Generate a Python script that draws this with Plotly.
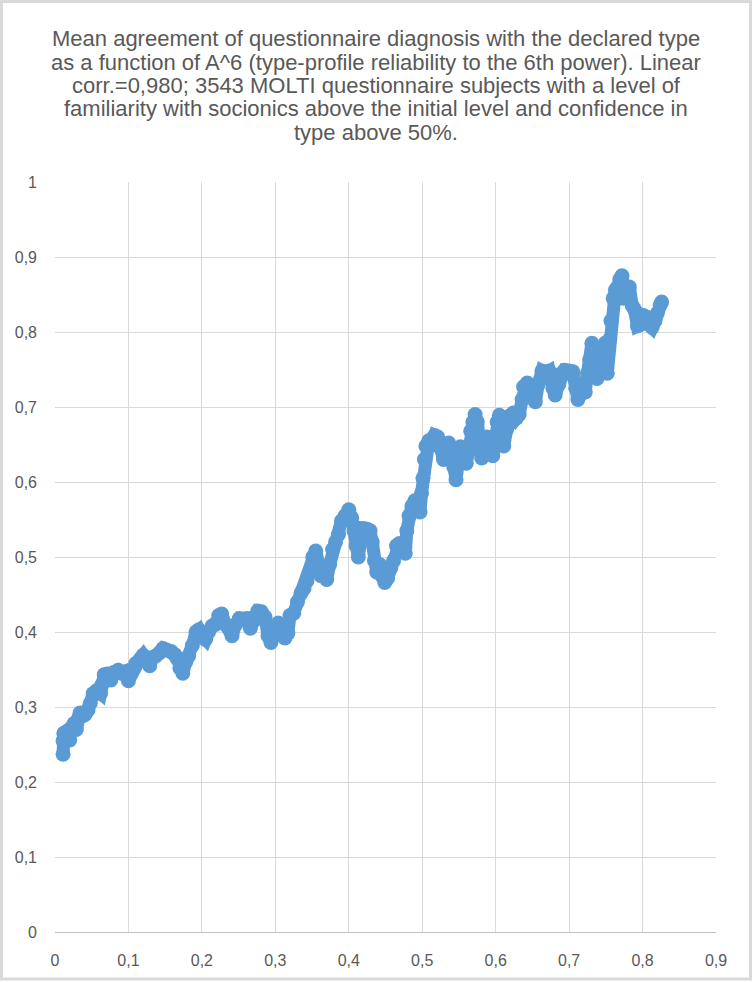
import plotly.graph_objects as go

# A^6 (x) and mean agreement (y)
reliability = [
    0.011, 0.011, 0.012, 0.015, 0.017, 0.020, 0.022, 0.026, 0.029, 0.032,
    0.034, 0.037, 0.041, 0.045, 0.048, 0.052, 0.057, 0.062, 0.064, 0.067,
    0.071, 0.076, 0.080, 0.086, 0.091, 0.095, 0.100, 0.104, 0.110, 0.116,
    0.120, 0.125, 0.129, 0.133, 0.137, 0.142, 0.147, 0.152, 0.158, 0.163,
    0.166, 0.170, 0.174, 0.178, 0.182, 0.187, 0.192, 0.196, 0.200, 0.205,
    0.209, 0.214, 0.218, 0.223, 0.227, 0.232, 0.237, 0.241, 0.246, 0.251,
    0.256, 0.261, 0.266, 0.271, 0.276, 0.281, 0.286, 0.290, 0.294, 0.299,
    0.304, 0.308, 0.313, 0.317, 0.320, 0.325, 0.330, 0.335, 0.339, 0.343,
    0.347, 0.351, 0.355, 0.359, 0.362, 0.366, 0.370, 0.374, 0.378, 0.382,
    0.386, 0.390, 0.395, 0.400, 0.404, 0.407, 0.410, 0.413, 0.416, 0.420,
    0.425, 0.429, 0.432, 0.435, 0.438, 0.442, 0.445, 0.449, 0.453, 0.457,
    0.461, 0.465, 0.469, 0.473, 0.477, 0.479, 0.482, 0.486, 0.490, 0.494,
    0.497, 0.499, 0.501, 0.503, 0.505, 0.509, 0.513, 0.517, 0.521, 0.525,
    0.529, 0.533, 0.536, 0.540, 0.543, 0.546, 0.549, 0.552, 0.556, 0.560,
    0.563, 0.566, 0.569, 0.572, 0.575, 0.578, 0.581, 0.584, 0.588, 0.592,
    0.596, 0.600, 0.602, 0.605, 0.608, 0.611, 0.615, 0.619, 0.624, 0.628,
    0.632, 0.636, 0.638, 0.643, 0.648, 0.654, 0.658, 0.663, 0.668, 0.673,
    0.678, 0.681, 0.686, 0.690, 0.694, 0.700, 0.705, 0.709, 0.712, 0.717,
    0.722, 0.725, 0.728, 0.731, 0.734, 0.738, 0.742, 0.746, 0.749, 0.752,
    0.755, 0.757, 0.760, 0.763, 0.766, 0.769, 0.772, 0.774, 0.778, 0.782,
    0.786, 0.789, 0.793, 0.797, 0.801, 0.805, 0.809, 0.813, 0.817, 0.820,
    0.824, 0.826,
]
agreement = [
    0.237, 0.255, 0.265, 0.262, 0.268, 0.256, 0.272, 0.278, 0.270, 0.285,
    0.292, 0.288, 0.290, 0.296, 0.305, 0.318, 0.322, 0.318, 0.330, 0.343,
    0.344, 0.336, 0.346, 0.349, 0.345, 0.347, 0.335, 0.345, 0.358, 0.364,
    0.369, 0.362, 0.355, 0.366, 0.368, 0.372, 0.378, 0.376, 0.374, 0.370,
    0.365, 0.352, 0.345, 0.360, 0.368, 0.382, 0.400, 0.403, 0.395, 0.390,
    0.400, 0.408, 0.410, 0.422, 0.424, 0.410, 0.405, 0.395, 0.410, 0.418,
    0.417, 0.418, 0.405, 0.415, 0.428, 0.427, 0.420, 0.395, 0.386, 0.398,
    0.412, 0.405, 0.392, 0.398, 0.422, 0.425, 0.440, 0.452, 0.458, 0.468,
    0.480, 0.500, 0.508, 0.490, 0.475, 0.480, 0.470, 0.490, 0.510, 0.520,
    0.530, 0.548, 0.555, 0.563, 0.552, 0.535, 0.515, 0.500, 0.520, 0.538,
    0.537, 0.535, 0.520, 0.495, 0.480, 0.490, 0.475, 0.466, 0.472, 0.485,
    0.495, 0.515, 0.518, 0.510, 0.505, 0.535, 0.555, 0.568, 0.575, 0.565,
    0.560, 0.585, 0.605, 0.630, 0.648, 0.655, 0.650, 0.662, 0.660, 0.645,
    0.630, 0.638, 0.652, 0.640, 0.620, 0.603, 0.625, 0.647, 0.640, 0.625,
    0.640, 0.668, 0.680, 0.690, 0.680, 0.650, 0.632, 0.640, 0.660, 0.645,
    0.635, 0.660, 0.680, 0.689, 0.665, 0.648, 0.670, 0.688, 0.692, 0.685,
    0.690, 0.710, 0.727, 0.732, 0.725, 0.707, 0.730, 0.748, 0.745, 0.748,
    0.725, 0.716, 0.730, 0.745, 0.749, 0.748, 0.747, 0.725, 0.710, 0.718,
    0.720, 0.745, 0.763, 0.785, 0.770, 0.738, 0.745, 0.770, 0.785, 0.745,
    0.790, 0.815, 0.845, 0.856, 0.860, 0.870, 0.875, 0.845, 0.852, 0.860,
    0.835, 0.830, 0.808, 0.810, 0.822, 0.820, 0.810, 0.806, 0.815, 0.825,
    0.836, 0.840,
]

title_lines = [
    "Mean agreement of questionnaire diagnosis with the declared type",
    "as a function of A^6 (type-profile reliability to the 6th power). Linear",
    "corr.=0,980; 3543 MOLTI questionnaire subjects with a level of",
    "familiarity with socionics above the initial level and confidence in",
    "type above 50%.",
]

blue = "#5b9bd5"
grid = "#d9d9d9"
txt = "#595959"

fig = go.Figure()
fig.add_trace(go.Scatter(
    x=reliability, y=agreement,
    mode="lines+markers",
    line=dict(color=blue, width=13),
    marker=dict(color=blue, size=15),
    showlegend=False,
))

W, H = 752, 982
L, R, T, B = 55, 36, 182, 50
pw, ph = W - L - R, H - T - B


def px_x(p):
    return (p - L) / pw


def px_y(p):
    return (H - B - p) / ph


# title as separate lines so the line spacing matches the original
annotations = []
for i, line in enumerate(title_lines):
    annotations.append(dict(
        text=line, xref="paper", yref="paper",
        x=px_x(W / 2), y=px_y(39 + 23.3 * i),
        xanchor="center", yanchor="middle", showarrow=False,
        font=dict(size=22, color=txt),
    ))

fig.update_layout(
    width=W, height=H,
    margin=dict(l=L, r=R, t=T, b=B, autoexpand=False),
    paper_bgcolor="white", plot_bgcolor="white",
    separators=", ",
    font=dict(family="Liberation Sans, Arial, sans-serif", color=txt, size=16),
    annotations=annotations,
    xaxis=dict(range=[0, 0.9], dtick=0.1, tick0=0, showgrid=True, gridcolor=grid,
               zeroline=False, showline=True, linecolor="#bfbfbf", linewidth=1,
               ticks="", ticklabelstandoff=14, tickformat=".1~f", automargin=False),
    yaxis=dict(range=[0, 1], dtick=0.1, tick0=0, showgrid=True, gridcolor=grid,
               zeroline=False, showline=False, ticks="", ticklabelstandoff=17,
               tickformat=".1~f", automargin=False),
    shapes=[dict(type="rect", xref="paper", yref="paper",
                 x0=px_x(1.5), x1=px_x(W - 1.5), y0=px_y(H - 3), y1=px_y(1.5),
                 line=dict(color="#d9d9d9", width=3), layer="below")],
)

fig.write_html("out.html", config={"displayModeBar": False},
               post_script="document.body.style.margin='0';")
